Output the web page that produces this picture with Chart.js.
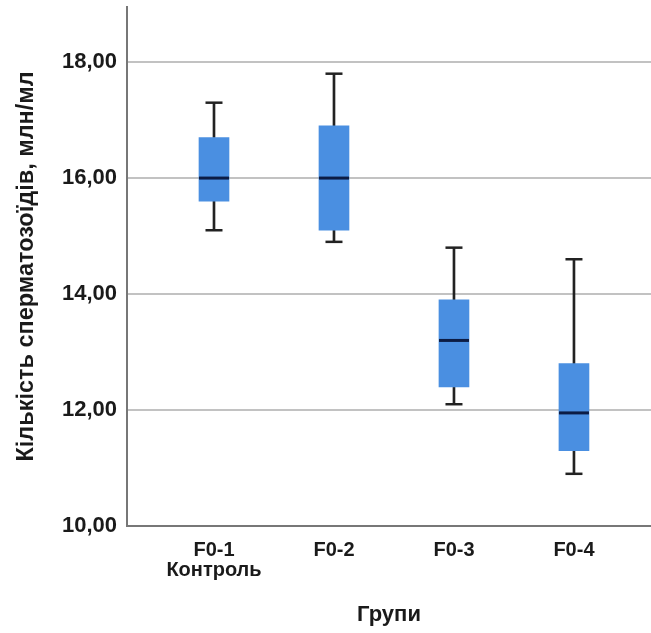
<!DOCTYPE html>
<html>
<head>
<meta charset="utf-8">
<script src="https://cdn.jsdelivr.net/npm/chart.js@4/dist/chart.umd.min.js"></script>
<style>
  body { margin: 0; background: #fff; }
  #wrap { width: 651px; height: 633px; position: relative; }
</style>
</head>
<body>
<div id="wrap"><canvas id="plot"></canvas></div>
<script>
// data
const groups = [['F0-1', 'Контроль'], 'F0-2', 'F0-3', 'F0-4']
const whiskerLow = [15.1, 14.9, 12.1, 10.9]
const q1 = [15.6, 15.1, 12.4, 11.3]
const median = [16.0, 16.0, 13.2, 11.95]
const q3 = [16.7, 16.9, 13.9, 12.8]
const whiskerHigh = [17.3, 17.8, 14.8, 14.6]
const yTicks = [10, 12, 14, 16, 18]

const font = '"Liberation Sans", Arial, sans-serif'
const ink = '#1a1a1a'
const boxBlue = '#4a8fe1'

// build datasets
const boxes = groups.map((g, i) => ({ x: i, y: [q1[i], q3[i]] }))
const lowStems = groups.map((g, i) => ({ x: i, y: [whiskerLow[i], q1[i]] }))
const highStems = groups.map((g, i) => ({ x: i, y: [q3[i], whiskerHigh[i]] }))
const caps = []
groups.forEach((g, i) => {
  caps.push({ x: i, y: whiskerLow[i] })
  caps.push({ x: i, y: whiskerHigh[i] })
})
const medians = groups.map((g, i) => ({ x: i, y: median[i] }))

const chart = new Chart(document.getElementById('plot'), {
  data: {
    datasets: [
      { type: 'scatter', data: medians, pointStyle: 'line', pointRadius: 15,
        borderColor: '#0c1c44', borderWidth: 3, order: 0 },
      { type: 'bar', data: boxes, backgroundColor: boxBlue, barThickness: 30,
        grouped: false, order: 1 },
      { type: 'bar', data: lowStems, backgroundColor: '#222', barThickness: 2,
        grouped: false, order: 2 },
      { type: 'bar', data: highStems, backgroundColor: '#222', barThickness: 2,
        grouped: false, order: 2 },
      { type: 'scatter', data: caps, pointStyle: 'line', pointRadius: 8.5,
        borderColor: '#222', borderWidth: 2.5, order: 2 }
    ]
  },
  options: {
    responsive: true,
    maintainAspectRatio: false,
    animation: false,
    events: [],
    layout: { autoPadding: false, padding: { top: 7, right: 0, left: 0, bottom: 0 } },
    plugins: {
      legend: { display: false },
      tooltip: { enabled: false }
    },
    scales: {
      x: {
        type: 'linear',
        offset: false,
        min: -0.725,
        max: 3.642,
        grid: { display: false, drawTicks: false },
        border: { display: true, color: '#777', width: 2 },
        afterBuildTicks: (scale) => {
          scale.ticks = groups.map((g, i) => ({ value: i }))
        },
        afterFit: (scale) => {
          scale.height = 107
          scale.paddingLeft = 0
          scale.paddingRight = 0
        },
        ticks: {
          autoSkip: false,
          maxRotation: 0,
          padding: 14,
          color: ink,
          font: { family: font, size: 20, weight: 'bold', lineHeight: 1.0 },
          callback: (v, i) => groups[i]
        },
        title: {
          display: true,
          text: 'Групи',
          color: ink,
          font: { family: font, size: 22, weight: 'bold' },
          padding: { top: 0, bottom: 5 }
        }
      },
      y: {
        min: 10,
        max: 18.95,
        grid: { color: '#c2c2c2', lineWidth: 2, drawTicks: false },
        border: { display: true, color: '#777', width: 2 },
        afterBuildTicks: (scale) => {
          scale.ticks = yTicks.map(v => ({ value: v }))
        },
        afterFit: (scale) => {
          scale.width = 127
          scale.paddingTop = 0
          scale.paddingBottom = 0
        },
        ticks: {
          padding: 10,
          color: ink,
          font: { family: font, size: 22, weight: 'bold' },
          callback: (v) => v.toFixed(2).replace('.', ',')
        },
        title: {
          display: true,
          text: 'Кількість сперматозоїдів, млн/мл',
          color: ink,
          font: { family: font, size: 23.5, weight: 'bold' },
          padding: { top: 12, bottom: 0 }
        }
      }
    }
  }
})
</script>
</body>
</html>
